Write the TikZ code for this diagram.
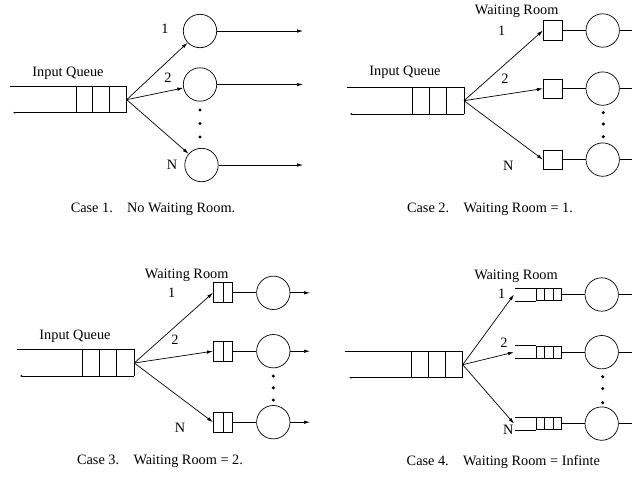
\documentclass[tikz,border=0pt]{standalone}
\usepackage{fontspec}
\setmainfont{Liberation Serif}
\usetikzlibrary{arrows.meta}
\begin{document}
\begin{tikzpicture}[x=1pt,y=-1pt, line width=0.7pt,
  srv/.style={draw, circle, minimum size=33.4pt, inner sep=0pt},
  wrone/.style={draw, minimum width=19.4pt, minimum height=19.4pt, inner sep=0pt},
  wrtwo/.style={draw, minimum width=19.4pt, minimum height=20pt, inner sep=0pt},
  wrinf/.style={draw, minimum width=25.7pt, minimum height=12.4pt, inner sep=0pt},
  arr/.style={-{Latex[length=6pt,width=3.5pt]}},
  tinyarr/.style={{Latex[length=2pt,width=2pt]}-},
  lbl/.style={font=\fontsize{14.3}{16}\selectfont, inner sep=0pt},
  dotn/.style={circle, fill, inner sep=0pt, minimum size=3.4pt}
]
\useasboundingbox (0,0) rectangle (632,482);
\clip (0,0) rectangle (632,482);

% ================= Case 1 =================
\draw (10,86.7) -- (126.7,86.7);
\draw[tinyarr] (13,112.7) -- (126.7,112.7);
\foreach \x in {76,92.5,109.3,126.7} \draw (\x,86.7) -- (\x,112.7);
\coordinate (f1) at (126.7,99.7);
\node[lbl] (iq1) at (68,73) {Input Queue};
\node[srv] (c11) at (200,31) {};
\node[srv] (c12) at (200,84.5) {};
\node[srv] (c1N) at (201.5,165) {};
\draw[arr] (f1) -- (c11);
\draw[arr] (f1) -- (c12);
\draw[arr] (f1) -- (c1N);
\coordinate (o11) at (303,31);
\coordinate (o12) at (303,84.5);
\coordinate (o1N) at (303,165);
\draw[arr] (c11) -- (o11);
\draw[arr] (c12) -- (o12);
\draw[arr] (c1N) -- (o1N);
\node[lbl] (l11) at (165,29) {1};
\node[lbl] (l12) at (168,78) {2};
\node[lbl] (l1N) at (172,165) {N};
\node[dotn] (d11) at (200,110) {};
\node[dotn] (d12) at (200,123.5) {};
\node[dotn] (d13) at (200,137) {};
\node[lbl] (cap1) at (153,209) {Case 1.\quad No Waiting Room.};

% ================= Case 2 =================
\draw (346.7,87.3) -- (464,87.3);
\draw[tinyarr] (350,114) -- (464,114);
\foreach \x in {412.7,429.3,446,464} \draw (\x,87.3) -- (\x,114);
\coordinate (f2) at (464,100.7);
\node[lbl] (iq2) at (405,72.7) {Input Queue};
\node[lbl] (wr2) at (516.7,11) {Waiting Room};
\node[wrone] (b21) at (553,30.5) {};
\node[wrone] (b22) at (553,88.6) {};
\node[wrone] (b2N) at (553,159.6) {};
\node[srv] (c21) at (602.7,30.5) {};
\node[srv] (c22) at (602.7,88.6) {};
\node[srv] (c2N) at (602.7,159.6) {};
\draw[arr] (f2) -- (b21.west);
\draw[arr] (f2) -- (b22.west);
\draw[arr] (f2) -- (b2N.west);
\draw (b21) -- (c21);
\draw (b22) -- (c22);
\draw (b2N) -- (c2N);
\coordinate (o21) at (640,30.5);
\coordinate (o22) at (640,88.6);
\coordinate (o2N) at (640,159.6);
\draw[arr] (c21) -- (o21);
\draw[arr] (c22) -- (o22);
\draw[arr] (c2N) -- (o2N);
\node[lbl] (l21) at (501.7,30.7) {1};
\node[lbl] (l22) at (505,79) {2};
\node[lbl] (l2N) at (508.3,165.7) {N};
\node[dotn] (d21) at (603.3,112.7) {};
\node[dotn] (d22) at (603.3,124) {};
\node[dotn] (d23) at (603.3,136.7) {};
\node[lbl] (cap2) at (490,209) {Case 2.\quad Waiting Room = 1.};

% ================= Case 3 =================
\draw (16.7,349.3) -- (134.3,349.3);
\draw[tinyarr] (20,376) -- (134.3,376);
\foreach \x in {82.7,99.3,116.7,134.3} \draw (\x,349.3) -- (\x,376);
\coordinate (f3) at (134.3,363);
\node[lbl] (iq3) at (75,336) {Input Queue};
\node[lbl] (wr3) at (186.7,275) {Waiting Room};
\node[wrtwo] (b31) at (223,292.8) {};
\node[wrtwo] (b32) at (223,351.2) {};
\node[wrtwo] (b3N) at (223,422.2) {};
\draw (b31.north) -- (b31.south);
\draw (b32.north) -- (b32.south);
\draw (b3N.north) -- (b3N.south);
\node[srv] (c31) at (273.3,292.8) {};
\node[srv] (c32) at (273.3,351.2) {};
\node[srv] (c3N) at (273.3,422.2) {};
\draw[arr] (f3) -- (b31.west);
\draw[arr] (f3) -- (b32.west);
\draw[arr] (f3) -- (b3N.west);
\draw (b31) -- (c31);
\draw (b32) -- (c32);
\draw (b3N) -- (c3N);
\coordinate (o31) at (310,292.8);
\coordinate (o32) at (310,351.2);
\coordinate (o3N) at (310,422.2);
\draw[arr] (c31) -- (o31);
\draw[arr] (c32) -- (o32);
\draw[arr] (c3N) -- (o3N);
\node[lbl] (l31) at (171.7,292.7) {1};
\node[lbl] (l32) at (175,340) {2};
\node[lbl] (l3N) at (180,428.3) {N};
\node[dotn] (d31) at (273.3,376) {};
\node[dotn] (d32) at (273.3,387.8) {};
\node[dotn] (d33) at (273.3,400) {};
\node[lbl] (cap3) at (160,461) {Case 3.\quad Waiting Room = 2.};

% ================= Case 4 =================
\draw (345,351.7) -- (462.7,351.7);
\draw[tinyarr] (349.3,377.7) -- (462.7,377.7);
\foreach \x in {411.7,428.3,445.7,462.7} \draw (\x,351.7) -- (\x,377.7);
\coordinate (f4) at (462.7,364.7);
\node[lbl] (wr4) at (516,276.7) {Waiting Room};
\foreach \n/\y in {1/294.5,2/352.2,N/423.6}{
  \node[wrinf] (q4\n) at (548.85,\y) {};
  \draw (q4\n.north west) -- ++(-21,0);
  \draw (q4\n.south west) -- ++(-21,0);
  \draw ([xshift=9pt]q4\n.north west) -- ([xshift=9pt]q4\n.south west);
  \draw ([xshift=17.3pt]q4\n.north west) -- ([xshift=17.3pt]q4\n.south west);
  \coordinate (w4\n) at (514,\y);
  \node[srv] (c4\n) at (601.7,\y) {};
  \draw[arr] (f4) -- (w4\n);
  \draw (q4\n) -- (c4\n);
  \coordinate (o4\n) at (640,\y);
  \draw[arr] (c4\n) -- (o4\n);
}
\node[lbl] (l41) at (501.7,293.3) {1};
\node[lbl] (l42) at (504,342.7) {2};
\node[lbl] (l4N) at (508.3,430) {N};
\node[dotn] (d41) at (602.7,376.7) {};
\node[dotn] (d42) at (602.7,388.5) {};
\node[dotn] (d43) at (602.7,402.7) {};
\node[lbl] (cap4) at (503.3,462) {Case 4.\quad Waiting Room = Infinte};
\end{tikzpicture}
\end{document}
